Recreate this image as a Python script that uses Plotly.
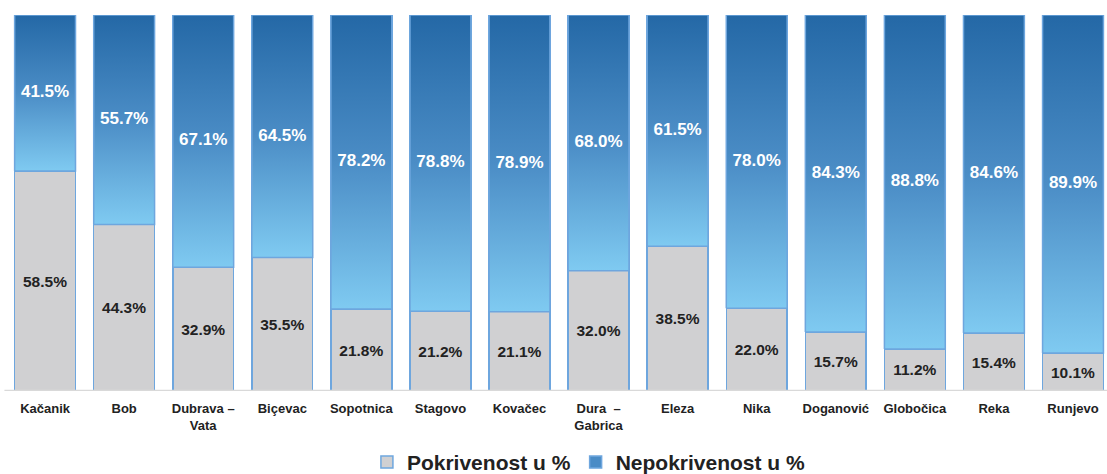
import plotly.graph_objects as go

categories = ["Kačanik", "Bob", "Dubrava –<br>Vata", "Biçevac", "Sopotnica", "Stagovo",
              "Kovačec", "Dura  –<br>Gabrica", "Eleza", "Nika", "Doganović", "Globočica",
              "Reka", "Runjevo"]
covered = [58.5, 44.3, 32.9, 35.5, 21.8, 21.2, 21.1, 32.0, 38.5, 22.0, 15.7, 11.2, 15.4, 10.1]
uncovered = [41.5, 55.7, 67.1, 64.5, 78.2, 78.8, 78.9, 68.0, 61.5, 78.0, 84.3, 88.8, 84.6, 89.9]

GRAY = "#d0d0d2"
EDGE = "#6ea6de"
DARK = "#2468a6"
LIGHT = "#7fcaf1"
MID = "#4a8cc6"
BW = 0.77
FONT = "Liberation Sans, Arial, sans-serif"

xs = list(range(len(categories)))
fig = go.Figure()

fig.add_trace(go.Bar(
    x=xs, y=covered, name="Pokrivenost u %", width=BW,
    marker=dict(color=GRAY, line=dict(color=EDGE, width=1.5)),
    text=[f"{v:.1f}%" for v in covered], textposition="inside",
    insidetextanchor="middle", textangle=0,
    textfont=dict(family=FONT, size=15.5, color="#222222", weight="bold"),
    hoverinfo="skip",
))
fig.add_trace(go.Bar(
    x=xs, y=uncovered, name="Nepokrivenost u %", width=BW,
    marker=dict(color=MID, line=dict(color=EDGE, width=1.5)),
    hoverinfo="skip",
))

# gradient overlays for the uncovered segments
for i, (c, u) in enumerate(zip(covered, uncovered)):
    x0, x1 = i - BW / 2, i + BW / 2
    y0, y1 = c, c + u
    fig.add_trace(go.Scatter(
        x=[x0, x1, x1, x0, x0], y=[y0, y0, y1, y1, y0],
        mode="lines", fill="toself",
        line=dict(color=EDGE, width=1.5),
        fillgradient=dict(type="vertical", colorscale=[[0, LIGHT], [0.5, "#4b8dc6"], [1, DARK]]),
        showlegend=False, hoverinfo="skip",
    ))

fig.add_trace(go.Scatter(
    x=xs, y=[c + u / 2 for c, u in zip(covered, uncovered)],
    mode="text", text=[f"{v:.1f}%" for v in uncovered],
    textfont=dict(family=FONT, size=17, color="white", weight="bold"),
    showlegend=False, hoverinfo="skip",
))

fig.update_layout(
    barmode="stack",
    width=1107, height=474,
    margin=dict(l=0, r=0, t=15, b=83, autoexpand=False),
    paper_bgcolor="white", plot_bgcolor="white",
    showlegend=True,
    legend=dict(orientation="h", x=0.532, xanchor="center", y=-0.19, yanchor="middle",
                font=dict(family=FONT, size=21, color="#222222", weight="bold"),
                traceorder="normal", itemwidth=30, tracegroupgap=0),
    xaxis=dict(range=[-0.57, 13.43], tickmode="array", tickvals=xs, ticktext=categories,
               showgrid=False, zeroline=False, showline=False, ticks="",
               ticklabelstandoff=8, automargin=False,
               tickfont=dict(family=FONT, size=13, color="#222222", weight="bold")),
    yaxis=dict(range=[0, 100], visible=False, showgrid=False, zeroline=False, automargin=False),
    shapes=[dict(type="line", xref="paper", yref="y", x0=0.004, x1=1, y0=0, y1=0,
                 line=dict(color="#d9d9d9", width=2.5), layer="above")],
)

fig.write_html("out.html", config={"displayModeBar": False},
               post_script="document.body.style.margin='0';document.body.style.overflow='hidden';")
